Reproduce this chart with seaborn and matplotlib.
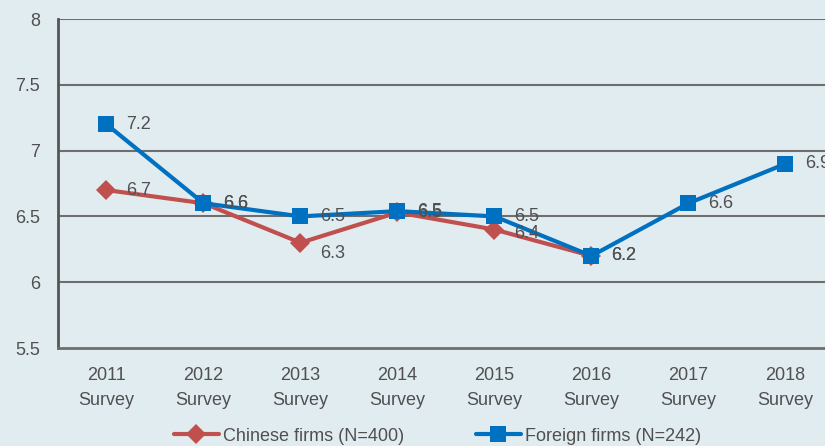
import matplotlib
matplotlib.use("Agg")
import matplotlib.pyplot as plt
import seaborn as sns
import pandas as pd
import numpy as np

# data
surveys = ["2011\nSurvey", "2012\nSurvey", "2013\nSurvey", "2014\nSurvey",
           "2015\nSurvey", "2016\nSurvey", "2017\nSurvey", "2018\nSurvey"]
chinese_vals = [6.7, 6.6, 6.3, 6.53, 6.4, 6.2]
foreign_vals = [7.2, 6.6, 6.5, 6.54, 6.5, 6.2, 6.6, 6.9]
chinese_labels = ["6.7", "6.6", "6.3", "6.5", "6.4", "6.2"]
foreign_labels = ["7.2", "6.6", "6.5", "6.5", "6.5", "6.2", "6.6", "6.9"]
series_names = ["Chinese firms (N=400)", "Foreign firms (N=242)"]
y_ticks = [5.5, 6, 6.5, 7, 7.5, 8]
y_tick_labels = ["5.5", "6", "6.5", "7", "7.5", "8"]

BG = "#e1ecf1"
RED = "#c0504d"
BLUE = "#0070c0"
TXT = "#505050"

sns.set_style("white")
plt.rcParams['font.family'] = ['Liberation Sans Narrow', 'Liberation Sans', 'DejaVu Sans']

df = pd.concat([
    pd.DataFrame({"pos": np.arange(len(chinese_vals)), "value": chinese_vals, "series": series_names[0]}),
    pd.DataFrame({"pos": np.arange(len(foreign_vals)), "value": foreign_vals, "series": series_names[1]}),
])

fig = plt.figure(figsize=(8.25, 4.46), dpi=100)
fig.patch.set_facecolor(BG)
ax = fig.add_axes([58 / 825, 98 / 446, 776 / 825, 329 / 446])
ax.set_facecolor(BG)

sns.lineplot(data=df, x="pos", y="value", hue="series", style="series",
             markers={series_names[0]: "D", series_names[1]: "s"}, dashes=False,
             palette={series_names[0]: RED, series_names[1]: BLUE},
             linewidth=3, markeredgewidth=0, ax=ax, legend=False)
for ln, ms in zip(ax.lines, [10, 12]):
    ln.set_markersize(ms)
ax.lines[1].set_zorder(4)

# data labels
for i, (v, t) in enumerate(zip(chinese_vals, chinese_labels)):
    dy = -8 if i == 2 else (-3 if i == 4 else 0)
    ax.annotate(t, (i, v), xytext=(14, dy), textcoords="offset points",
                ha="left", va="center", fontsize=13, color=TXT, zorder=5)
for i, (v, t) in enumerate(zip(foreign_vals, foreign_labels)):
    ax.annotate(t, (i, v), xytext=(14, 0), textcoords="offset points",
                ha="left", va="center", fontsize=13, color=TXT, zorder=5)

ax.set_xlim(-0.5, 7.5)
ax.set_ylim(5.5, 8)
ax.set_yticks(y_ticks)
ax.set_yticklabels(y_tick_labels, fontsize=13, color=TXT)
ax.set_xticks(np.arange(len(surveys)))
ax.set_xticklabels(surveys, fontsize=13, color=TXT, linespacing=1.6)
ax.set_xticks(np.arange(len(surveys) + 1) - 0.5, minor=True)
ax.tick_params(axis="x", which="major", length=0, pad=14)
ax.tick_params(axis="x", which="minor", length=5, width=1.5, color="#666666", direction="out")
ax.tick_params(axis="y", length=5, width=1.5, color="#666666", direction="out", pad=8)
ax.set_xlabel("")
ax.set_ylabel("")

for y in y_ticks[1:]:
    ax.axhline(y, color="#6e6e6e", linewidth=1.5, zorder=1)
for s in ["top", "right"]:
    ax.spines[s].set_visible(False)
ax.spines["left"].set_color("#555555")
ax.spines["left"].set_linewidth(2)
ax.spines["bottom"].set_color("#6e6e6e")
ax.spines["bottom"].set_linewidth(2)

handles = [
    plt.Line2D([], [], color=RED, marker="D", markersize=10, markeredgewidth=0, linewidth=3),
    plt.Line2D([], [], color=BLUE, marker="s", markersize=12, markeredgewidth=0, linewidth=3),
]
leg = fig.legend(handles, series_names, loc="center", bbox_to_anchor=(0.53, 0.022),
                 ncol=2, frameon=False, fontsize=13, handlelength=2.5, handletextpad=0.2,
                 columnspacing=4)
for t in leg.get_texts():
    t.set_color(TXT)

fig.savefig("out.png", dpi=100, facecolor=BG)
